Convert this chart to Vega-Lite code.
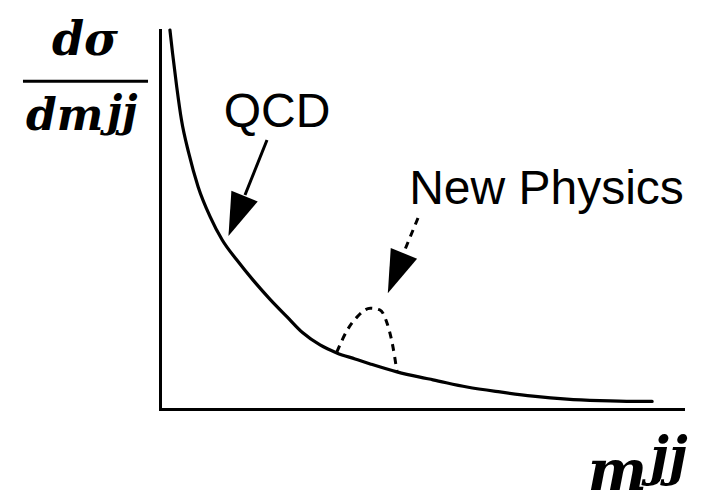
{
  "$schema": "https://vega.github.io/schema/vega-lite/v6.json",
  "autosize": "none",
  "width": 523,
  "height": 379,
  "padding": {"left": 160, "top": 30, "right": 24, "bottom": 94},
  "background": "white",
  "config": {"view": {"stroke": null}},
  "datasets": {
    "qcd": [
      {"m": 0.19, "s": 10.0}, {"m": 0.24, "s": 9.39}, {"m": 0.32, "s": 8.5}, {"m": 0.41, "s": 7.63},
      {"m": 0.55, "s": 6.75}, {"m": 0.73, "s": 5.86}, {"m": 0.96, "s": 5.07}, {"m": 1.19, "s": 4.46},
      {"m": 1.47, "s": 3.93}, {"m": 1.78, "s": 3.4}, {"m": 2.1, "s": 2.9}, {"m": 2.43, "s": 2.43},
      {"m": 2.73, "s": 2.01}, {"m": 3.06, "s": 1.69}, {"m": 3.38, "s": 1.48}, {"m": 3.73, "s": 1.32},
      {"m": 4.02, "s": 1.19}, {"m": 4.53, "s": 0.98}, {"m": 4.97, "s": 0.84}, {"m": 5.22, "s": 0.77},
      {"m": 5.87, "s": 0.58}, {"m": 6.5, "s": 0.45}, {"m": 7.13, "s": 0.34}, {"m": 7.78, "s": 0.26},
      {"m": 8.41, "s": 0.22}, {"m": 9.04, "s": 0.2}, {"m": 9.41, "s": 0.2}
    ],
    "np": [
      {"m": 3.38, "s": 1.5}, {"m": 3.58, "s": 2.08}, {"m": 3.77, "s": 2.43}, {"m": 4.02, "s": 2.66},
      {"m": 4.21, "s": 2.61}, {"m": 4.34, "s": 2.27}, {"m": 4.44, "s": 1.74}, {"m": 4.53, "s": 1.0}
    ]
  },
  "encoding": {
    "x": {"field": "m", "type": "quantitative", "scale": {"domain": [0, 10], "nice": false, "zero": false},
      "axis": {"domain": true, "domainColor": "black", "domainWidth": 3, "domainCap": "square", "ticks": false, "labels": false, "grid": false, "title": null}},
    "y": {"field": "s", "type": "quantitative", "scale": {"domain": [0, 10], "nice": false, "zero": false},
      "axis": {"domain": true, "domainColor": "black", "domainWidth": 3, "domainCap": "square", "ticks": false, "labels": false, "grid": false, "title": null}}
  },
  "layer": [
    {
      "data": {"name": "qcd"},
      "mark": {"type": "line", "color": "black", "strokeWidth": 3.2, "interpolate": "monotone", "strokeCap": "round"}
    },
    {
      "data": {"name": "np"},
      "mark": {"type": "line", "color": "black", "strokeWidth": 3, "interpolate": "monotone", "strokeDash": [7, 6]}
    },
    {
      "data": {"values": [{"m": 2.046, "s": 7.098, "m2": 1.625, "s2": 5.646}]},
      "mark": {"type": "rule", "color": "black", "strokeWidth": 3},
      "encoding": {"x2": {"field": "m2"}, "y2": {"field": "s2"}}
    },
    {
      "data": {"values": [{"m": 4.933, "s": 5.04, "m2": 4.665, "s2": 4.142}]},
      "mark": {"type": "rule", "color": "black", "strokeWidth": 3, "strokeDash": [7, 6]},
      "encoding": {"x2": {"field": "m2"}, "y2": {"field": "s2"}}
    },
    {
      "data": {"values": [{"m": 1.463, "s": 5.09, "label": "QCD"}, {"m": 4.51, "s": 3.58, "label": "New Physics"}]},
      "mark": {"type": "point", "shape": "M -0.66 -1 L 0.66 -1 L 0 1 Z", "filled": true, "color": "black", "opacity": 1, "size": 1850, "angle": 22, "strokeWidth": 0}
    },
    {
      "data": {"values": [{"m": 2.237, "s": 7.44, "label": "QCD"}, {"m": 7.39, "s": 5.41, "label": "New Physics"}]},
      "mark": {"type": "text", "font": "Liberation Sans", "fontSize": 48, "align": "center", "baseline": "alphabetic", "color": "black"},
      "encoding": {"text": {"field": "label"}}
    },
    {
      "data": {"values": [{"m": -2.62, "s": 8.65, "m2": -0.229}]},
      "mark": {"type": "rule", "color": "black", "strokeWidth": 3},
      "encoding": {"x2": {"field": "m2"}}
    },
    {
      "data": {"values": [{"m": -1.434, "s": 9.34, "label": "dσ"}]},
      "mark": {"type": "text", "font": "DejaVu Serif", "fontStyle": "italic", "fontWeight": "bold", "fontSize": 46, "align": "center", "baseline": "alphabetic", "color": "black"},
      "encoding": {"text": {"field": "label"}}
    },
    {
      "data": {"values": [{"m": -2.562, "s": 7.36, "label": "dm"}]},
      "mark": {"type": "text", "font": "DejaVu Serif", "fontStyle": "italic", "fontWeight": "bold", "fontSize": 44, "align": "left", "baseline": "alphabetic", "color": "black"},
      "encoding": {"text": {"field": "label"}}
    },
    {
      "data": {"values": [{"m": -1.013, "s": 7.46, "label": "jj"}]},
      "mark": {"type": "text", "font": "DejaVu Serif", "fontStyle": "italic", "fontWeight": "bold", "fontSize": 42, "align": "left", "baseline": "alphabetic", "color": "black"},
      "encoding": {"text": {"field": "label"}}
    },
    {
      "data": {"values": [{"m": 8.18, "s": -2.14, "label": "m"}]},
      "mark": {"type": "text", "font": "DejaVu Serif", "fontStyle": "italic", "fontWeight": "bold", "fontSize": 56, "align": "left", "baseline": "alphabetic", "color": "black"},
      "encoding": {"text": {"field": "label"}}
    },
    {
      "data": {"values": [{"m": 9.37, "s": -1.72, "label": "jj"}]},
      "mark": {"type": "text", "font": "DejaVu Serif", "fontStyle": "italic", "fontWeight": "bold", "fontSize": 52, "align": "left", "baseline": "alphabetic", "color": "black"},
      "encoding": {"text": {"field": "label"}}
    }
  ]
}
